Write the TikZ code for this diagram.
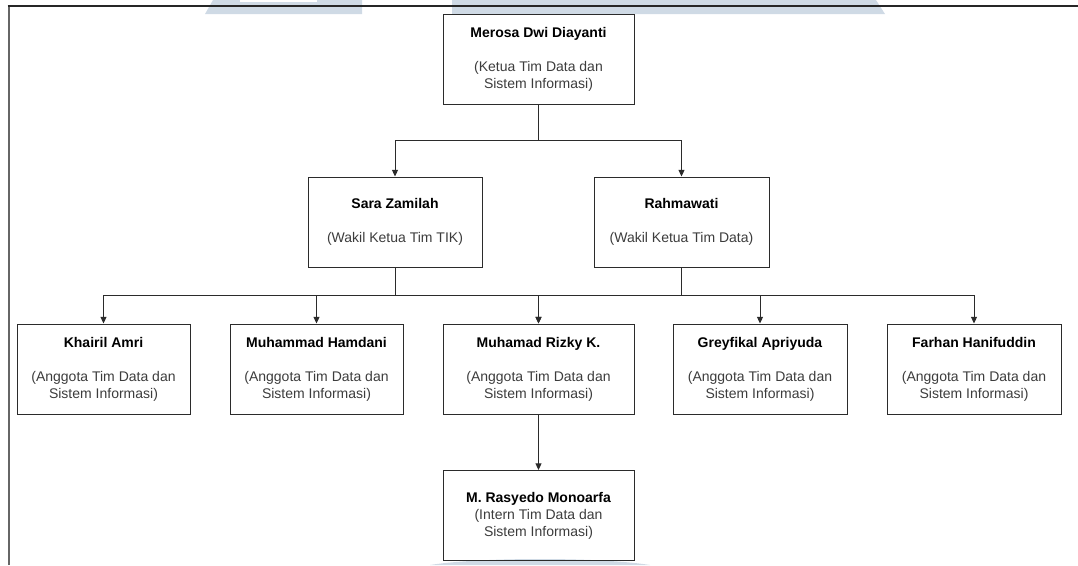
\documentclass[tikz,border=0pt]{standalone}
\usepackage{fontspec}
\setmainfont{Liberation Sans}
\usetikzlibrary{arrows.meta,positioning}
\definecolor{wmblue}{HTML}{CFDAE5}
\definecolor{boxline}{HTML}{2B2B2B}
\definecolor{roletext}{HTML}{3C3C3C}

\begin{document}
\begin{tikzpicture}[
        x=0.75pt, y=-0.75pt,
        member/.style={draw=boxline, line width=0.75pt, align=center,
            inner sep=0pt, minimum height=67.5pt, text=roletext,
            font=\fontsize{10.5}{12.75}\selectfont},
        wide/.style={member, minimum width=143.25pt},
        narrow/.style={member, minimum width=130.5pt},
        conn/.style={draw=boxline, line width=0.75pt,
            -{Triangle[length=5pt,width=4.5pt]}},
        wmshape/.style={fill=wmblue, draw=none},
    ]
    \useasboundingbox (0,0) rectangle (1078,565);
    % watermark
    \fill[wmshape] (205,14) -- (213,0) -- (362,0) -- (362,14) -- cycle;
    \fill[white] (240,0) rectangle (317,2);
    \fill[wmshape] (452,14) -- (452,0) -- (876,0) -- (885,14) -- cycle;
    \fill[wmshape] (430,565) .. controls (480,557) and (600,557) .. (650,565) -- cycle;
    % frame
    \draw[line width=1.5pt, black!60] (8.5,565) -- (8.5,6);
    \draw[line width=1.2pt, black!85] (7.5,6) -- (1078,6);

    \newcommand{\who}[2]{\textcolor{black}{\textbf{#1}}\\[12.75pt]#2}
    \node[wide] at (538.5,59) (merosa)
        {\who{Merosa Dwi Diayanti}{(Ketua Tim Data dan\\Sistem Informasi)}};
    \node[narrow] at (395,222) (sara)
        {\who{Sara Zamilah}{(Wakil Ketua Tim TIK)}};
    \node[narrow, minimum width=131.25pt] at (681.5,222) (rahma)
        {\who{Rahmawati}{(Wakil Ketua Tim Data)}};

    \node[narrow, minimum width=129.75pt] at (103.5,369) (khairil)
        {\who{Khairil Amri}{(Anggota Tim Data dan\\Sistem Informasi)}};
    \node[narrow, minimum width=129.75pt] at (316.5,369) (hamdani)
        {\who{Muhammad Hamdani}{(Anggota Tim Data dan\\Sistem Informasi)}};
    \node[wide] at (538.5,369) (rizky)
        {\who{Muhamad Rizky K.}{(Anggota Tim Data dan\\Sistem Informasi)}};
    \node[narrow] at (760,369) (greyfikal)
        {\who{Greyfikal Apriyuda}{(Anggota Tim Data dan\\Sistem Informasi)}};
    \node[narrow] at (974,369) (farhan)
        {\who{Farhan Hanifuddin}{(Anggota Tim Data dan\\Sistem Informasi)}};

    \node[wide] at (538.5,515.5) (rasyedo)
        {\textcolor{black}{\textbf{M. Rasyedo Monoarfa}}\\(Intern Tim Data dan\\Sistem Informasi)};

    % connectors
    \draw[conn] (merosa.south) -- ++(0,36) -| (sara.north);
    \draw[conn] (merosa.south) -- ++(0,36) -| (rahma.north);
    \draw[conn] (sara.south) -- ++(0,28) -| (khairil.north);
    \draw[conn] (sara.south) -- ++(0,28) -| (hamdani.north);
    \draw[conn] (sara.south) -- ++(0,28) -| (rizky.north);
    \draw[conn] (rahma.south) -- ++(0,28) -| (rizky.north);
    \draw[conn] (rahma.south) -- ++(0,28) -| (greyfikal.north);
    \draw[conn] (rahma.south) -- ++(0,28) -| (farhan.north);
    \draw[conn] (rizky.south) -- (rasyedo.north);
\end{tikzpicture}
\end{document}
